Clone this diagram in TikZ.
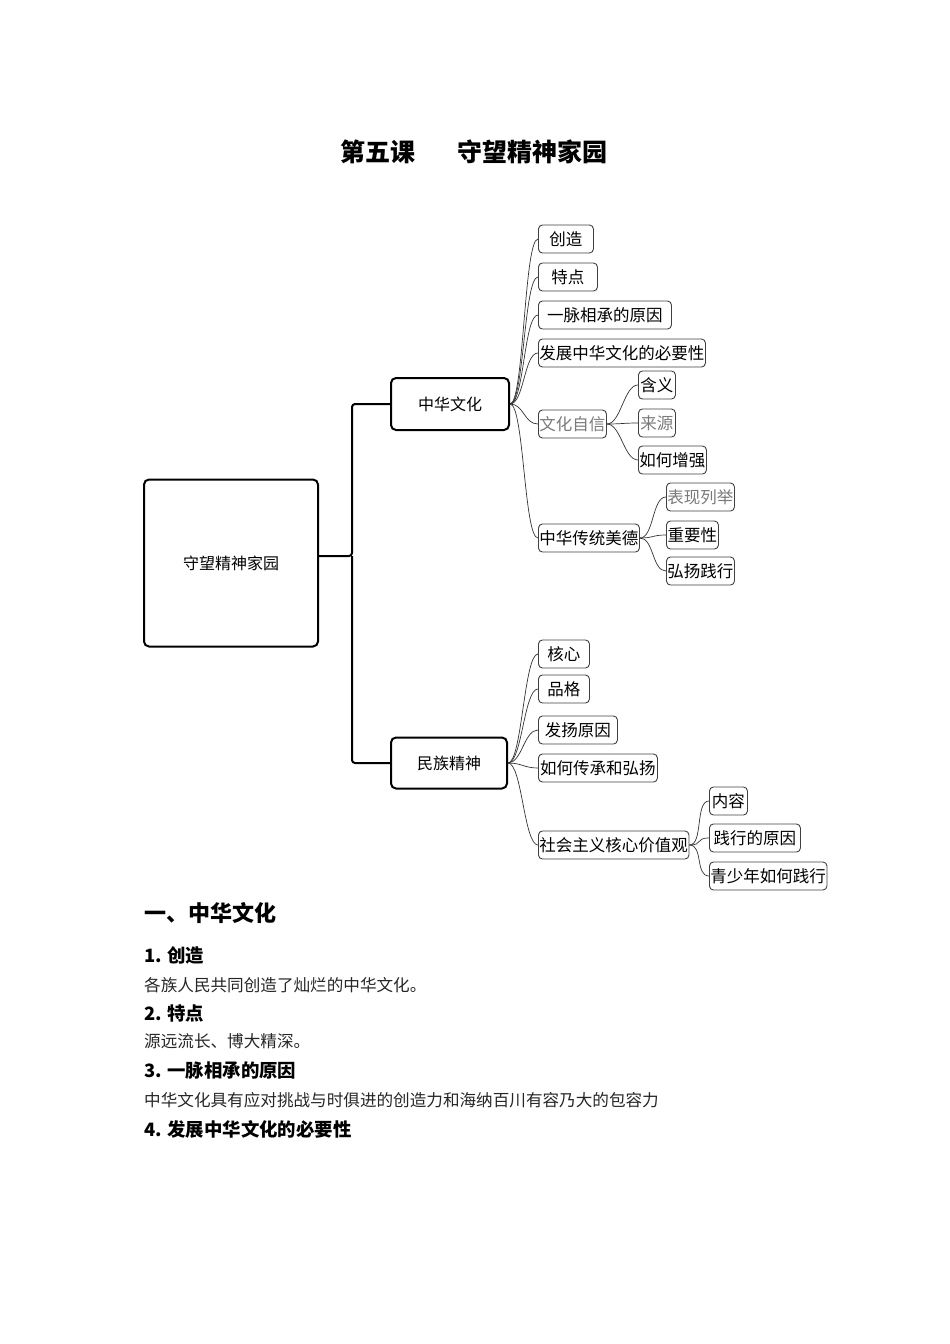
\documentclass[tikz,border=0pt]{standalone}
\usepackage{fontspec}
\setmainfont{Noto Sans CJK SC}
\usepackage{tikz}
\usetikzlibrary{positioning}
\definecolor{mapgray}{HTML}{7A7A7A}
\tikzset{
  rootbox/.style={draw=black, line width=2pt, rounded corners=5pt, fill=white,
    align=center, inner sep=0pt, font=\fontsize{16}{18}\selectfont},
  leafbox/.style={draw=black!75, line width=0.9pt, rounded corners=4pt, fill=white,
    anchor=west, inner sep=1pt, minimum height=28, font=\fontsize{16.5}{18}\selectfont},
  trunkline/.style={line width=2pt, black, rounded corners=3pt},
  branchline/.style={line width=0.7pt, black!80},
  headtext/.style={anchor=west, inner sep=0pt, font=\bfseries\fontsize{#1}{#1}\selectfont},
  bodytext/.style={anchor=west, inner sep=0pt, text=black!85, font=\fontsize{16.6}{18}\selectfont},
}

\begin{document}
\begin{tikzpicture}[x=1pt,y=-1pt]
  \useasboundingbox (0,0) rectangle (950,1344);
  \node[font=\bfseries\fontsize{25}{28}\selectfont] (title) at (474,152) {第五课\hspace{42pt}守望精神家园};

  % Mindmap: Wurzel, zwei Hauptaeste, Blaetter
  \node[rootbox, minimum width=174, minimum height=167] (root) at (231,563) {守望精神家园};
  \node[rootbox, minimum width=118, minimum height=52] (zh) at (450,404) {中华文化};
  \node[rootbox, minimum width=116, minimum height=51] (mz) at (449,763) {民族精神};
  \coordinate (fork) at (352,556);
  \draw[trunkline] (root.east |- fork) -- (fork) |- (zh.west);
  \draw[trunkline] (fork) |- (mz.west);

  \foreach \nm/\x/\y/\w/\col/\txt in {
      cz/538/239/55/black/创造, td/538/277/59/black/特点,
      ym/538/315/133/black/一脉相承的原因, fz/538/353/166/black/发展中华文化的必要性,
      zx/538/424/68/mapgray/文化自信, hy/638/385/37/black/含义,
      ly/638/423/37/mapgray/来源, zq/638/460/67/black/如何增强,
      mt/538/538/98/black/中华传统美德, bx/666/497/68/mapgray/表现列举,
      zy/666/535/52/black/重要性, hx/666/571/68/black/弘扬践行,
      hxin/538/654/51/black/核心, pg/538/689/51/black/品格,
      fy/538/730/79/black/发扬原因, cc/538/768/119/black/如何传承和弘扬,
      sh/538/845/148/black/社会主义核心价值观, nr/709/801/38/black/内容,
      jy/709/838/91/black/践行的原因, qs/709/876/111/black/青少年如何践行} {
    \node[leafbox, minimum width=\w, text=\col] (\nm) at (\x,\y) {\txt};
  }

  \foreach \p/\c in {zh/cz, zh/td, zh/ym, zh/fz, zh/zx, zh/mt,
      zx/hy, zx/ly, zx/zq, mt/bx, mt/zy, mt/hx,
      mz/hxin, mz/pg, mz/fy, mz/cc, mz/sh, sh/nr, sh/jy, sh/qs} {
    \draw[branchline] (\p.east) to[out=0, in=180, distance=14pt] (\c.west);
  }

  % Text unter der Karte
  \node[headtext=22] (h1) at (144,913) {一、中华文化};
  \node[headtext=18.4] (s1) at (144,955) {1. 创造};
  \node[bodytext] (b1) at (144,985) {各族人民共同创造了灿烂的中华文化。};
  \node[headtext=18.4] (s2) at (144,1013) {2. 特点};
  \node[bodytext] (b2) at (144,1041) {源远流长、博大精深。};
  \node[headtext=18.4] (s3) at (144,1071) {3. 一脉相承的原因};
  \node[bodytext] (b3) at (144,1100) {中华文化具有应对挑战与时俱进的创造力和海纳百川有容乃大的包容力};
  \node[headtext=18.4] (s4) at (144,1129) {4. 发展中华文化的必要性};
\end{tikzpicture}
\end{document}
